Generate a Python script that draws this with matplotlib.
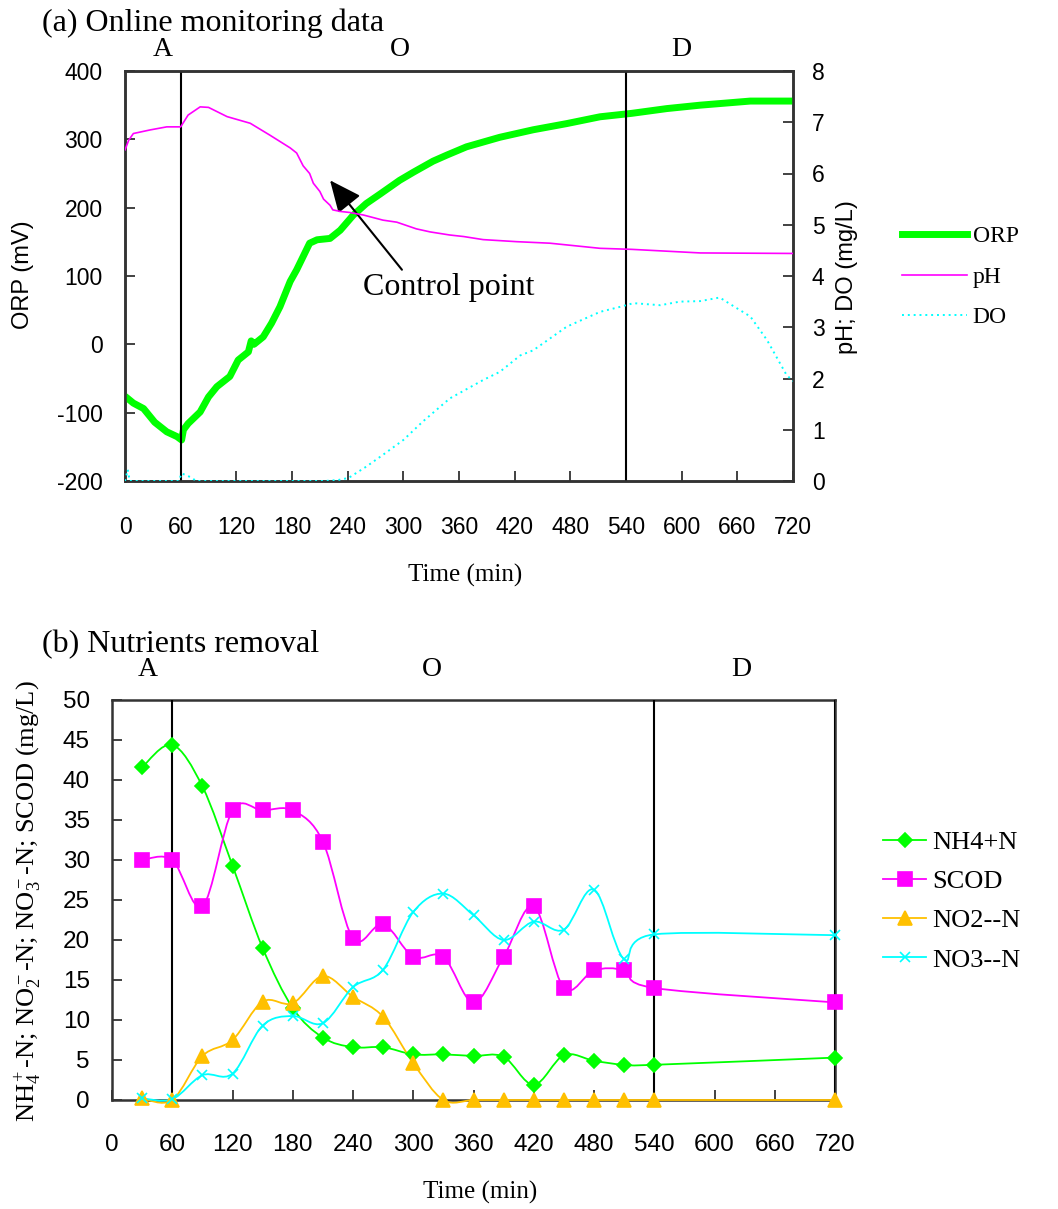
import matplotlib
matplotlib.use("Agg")
import matplotlib.pyplot as plt
import matplotlib.transforms as mtransforms
from matplotlib.path import Path
from matplotlib.patches import PathPatch
from matplotlib.lines import Line2D

plt.rcParams['font.family'] = ['Liberation Serif', 'DejaVu Serif']
plt.rcParams['mathtext.fontset'] = 'custom'
plt.rcParams['mathtext.rm'] = 'Liberation Serif'
plt.rcParams['mathtext.it'] = 'Liberation Serif:italic'
plt.rcParams['mathtext.bf'] = 'Liberation Serif:bold'
plt.rcParams['axes.unicode_minus'] = False

# ---- (a) online monitoring data ----
orp_t = [0, 9, 20, 32, 45, 56, 61, 63, 68, 81, 90, 99, 113, 122, 133, 136, 139, 149, 158,
         167, 178, 185, 199, 207, 221, 232, 246, 260, 275, 296, 311, 332, 347, 368, 404,
         440, 476, 512, 546, 584, 620, 674, 720]
orp = [-76, -86, -94, -114, -128, -135, -140, -125, -116, -99, -77, -62, -47, -23, -11, 5, 0,
       11, 31, 55, 92, 109, 148, 153, 155, 167, 189, 206, 220, 240, 252, 268, 277, 289, 303,
       314, 323, 333, 338, 345, 350, 356, 356]

ph_t = [0, 4, 9, 27, 45, 60, 68, 81, 90, 110, 135, 156, 178, 185, 192, 199, 203, 210, 214,
        221, 224, 232, 242, 257, 278, 293, 314, 329, 350, 365, 386, 404, 422, 458, 512, 546,
        620, 720]
ph = [6.46, 6.65, 6.78, 6.85, 6.91, 6.91, 7.14, 7.30, 7.29, 7.11, 6.98, 6.75, 6.50, 6.40,
      6.15, 6.00, 5.81, 5.65, 5.50, 5.38, 5.29, 5.26, 5.24, 5.19, 5.09, 5.05, 4.92, 4.86,
      4.80, 4.77, 4.71, 4.69, 4.67, 4.64, 4.54, 4.52, 4.45, 4.44]

do_t = [0, 3, 5, 58, 61, 70, 77, 215, 230, 241, 260, 278, 300, 321, 350, 386, 404, 426, 440,
        458, 476, 512, 534, 548, 577, 598, 620, 641, 656, 674, 692, 713, 720]
do = [0.0, 0.22, 0.0, 0.0, 0.15, 0.08, 0.0, 0.0, 0.02, 0.06, 0.28, 0.51, 0.80, 1.16, 1.61,
      1.97, 2.13, 2.45, 2.55, 2.78, 3.01, 3.30, 3.40, 3.47, 3.43, 3.50, 3.51, 3.58, 3.41,
      3.21, 2.75, 2.07, 1.95]

# ---- (b) nutrients removal ----
time_b = [30, 60, 90, 120, 150, 180, 210, 240, 270, 300, 330, 360, 390, 420, 450, 480, 510, 540, 720]
nh4 = [41.6, 44.4, 39.2, 29.3, 19.0, 11.5, 7.8, 6.6, 6.6, 5.7, 5.7, 5.5, 5.4, 1.9, 5.6, 4.9, 4.4, 4.4, 5.3]
scod = [30.0, 30.0, 24.2, 36.2, 36.2, 36.2, 32.3, 20.2, 22.0, 17.9, 17.9, 12.2, 17.9, 24.2, 14.0, 16.2, 16.2, 14.0, 12.2]
no2 = [0.2, 0.0, 5.5, 7.5, 12.3, 12.1, 15.5, 12.9, 10.4, 4.6, 0.0, 0.0, 0.0, 0.0, 0.0, 0.0, 0.0, 0.0, 0.0]
no3 = [0.2, 0.1, 3.1, 3.3, 9.3, 10.5, 9.6, 14.1, 16.3, 23.5, 25.8, 23.1, 20.0, 22.3, 21.3, 26.3, 17.6, 20.7, 20.6]

ticks_t = list(range(0, 721, 60))
phase_lines = [60, 540]

W, H = 1058, 1209
fig = plt.figure(figsize=(W / 100, H / 100), dpi=100)
spine_col = '#333333'
tick_font = ['Liberation Sans', 'DejaVu Sans']


def style_axes(ax, pad_x, pad_y, size):
    for s in ax.spines.values():
        s.set_color(spine_col)
        s.set_linewidth(1.8)
    ax.tick_params(direction='in', length=7, width=1.3, color=spine_col)
    ax.tick_params(axis='x', pad=pad_x, labelsize=size)
    ax.tick_params(axis='y', pad=pad_y, labelsize=size)
    for lab in ax.get_xticklabels() + ax.get_yticklabels():
        lab.set_family(tick_font)


def smooth_line(ax, x, y, color, lw=1.3):
    # Excel-like smoothed line (Catmull-Rom as cubic Bezier)
    n = len(x)
    verts = [(x[0], y[0])]
    codes = [Path.MOVETO]
    for i in range(n - 1):
        xp, yp = (x[i - 1], y[i - 1]) if i > 0 else (x[i], y[i])
        xn, yn = (x[i + 2], y[i + 2]) if i + 2 < n else (x[i + 1], y[i + 1])
        c1 = (x[i] + (x[i + 1] - xp) / 6, y[i] + (y[i + 1] - yp) / 6)
        c2 = (x[i + 1] - (xn - x[i]) / 6, y[i + 1] - (yn - y[i]) / 6)
        verts += [c1, c2, (x[i + 1], y[i + 1])]
        codes += [Path.CURVE4] * 3
    ax.add_patch(PathPatch(Path(verts, codes), fill=False, edgecolor=color, lw=lw,
                           zorder=3, clip_on=False))


# ===== top panel =====
ax = fig.add_axes([125 / W, 1 - 481 / H, 668 / W, 410 / H])
ax2 = ax.twinx()
ax.plot(orp_t, orp, color='#00ff00', lw=5, solid_capstyle='butt', zorder=3)
ax2.plot(ph_t, ph, color='#ff00ff', lw=1.2, zorder=3)
ax2.plot(do_t, do, color='#00ffff', lw=1.4, linestyle=(0, (1, 2)), zorder=3)
for t in phase_lines:
    ax.axvline(t, color='black', lw=1.5, zorder=4)

ax.set_xlim(0, 720)
ax.set_ylim(-200, 400)
ax2.set_ylim(0, 8)
ax.set_xticks(ticks_t)
ax.set_yticks(range(-200, 401, 100))
ax2.set_yticks(range(0, 9))
style_axes(ax, 25, 16, 16.5)
style_axes(ax2, 25, 13.5, 16.5)

ax.annotate('Control point', xy=(221, 240), xytext=(363 / W, 1 - 287 / H),
            textcoords='figure fraction', fontsize=23, va='center', ha='left',
            arrowprops=dict(arrowstyle='-|>,head_length=0.85,head_width=0.38',
                            color='black', lw=1.5, shrinkA=0, shrinkB=0,
                            relpos=(0.24, 1.0)))

ax.set_xlabel('Time (min)', fontsize=18)
ax.xaxis.label.set_va('center')
ax.xaxis.set_label_coords(465 / W, 1 - 575 / H, transform=fig.transFigure)
ax.set_ylabel('ORP (mV)', fontsize=17, family=tick_font, va='center')
ax.yaxis.set_label_coords(23 / W, 1 - 275 / H, transform=fig.transFigure)
ax2.set_ylabel('pH; DO (mg/L)', fontsize=17, family=tick_font, va='center')
ax2.yaxis.set_label_coords(847 / W, 1 - 277 / H, transform=fig.transFigure)

fig.text(42 / W, 1 - 23 / H, '(a) Online monitoring data', fontsize=23, va='center')
trans_a = mtransforms.blended_transform_factory(ax.transData, fig.transFigure)
for lab, t in zip(['A', 'O', 'D'], [41, 296, 600]):
    ax.text(t, 1 - 49 / H, lab, transform=trans_a, fontsize=20, ha='center', va='center')

leg_a = [Line2D([], [], color='#00ff00', lw=5),
         Line2D([], [], color='#ff00ff', lw=1.2),
         Line2D([], [], color='#00ffff', lw=1.4, linestyle=(0, (1, 2)))]
fig.legend(leg_a, ['ORP', 'pH', 'DO'], loc='center left',
           bbox_to_anchor=(902 / W, 1 - 277 / H), frameon=False, fontsize=17,
           handlelength=2.75, handletextpad=0.25, labelspacing=0.8,
           borderpad=0, borderaxespad=0)

# ===== bottom panel =====
bx = fig.add_axes([112 / W, 1 - 1100 / H, 723 / W, 400 / H])
series = [
    (nh4, '#00ff00', 'D', 7, 'NH4+N'),
    (scod, '#ff00ff', 's', 10, 'SCOD'),
    (no2, '#ffc000', '^', 10, 'NO2--N'),
    (no3, '#00ffff', 'x', 7, 'NO3--N'),
]
handles = []
for vals, col, mk, ms, name in series:
    smooth_line(bx, time_b, vals, col)
    bx.plot(time_b, vals, linestyle='none', marker=mk, markersize=ms, color=col,
            markeredgewidth=1.2, zorder=4, clip_on=False)
    handles.append(Line2D([], [], color=col, lw=1.3, marker=mk, markersize=ms,
                          markeredgewidth=1.2))
for t in phase_lines + [720]:
    bx.axvline(t, color='black', lw=1.5, zorder=2.6)

bx.set_xlim(0, 720)
bx.set_ylim(0, 50)
bx.set_xticks(ticks_t)
bx.set_yticks(range(0, 51, 5))
style_axes(bx, 24.5, 16, 17.5)

bx.set_xlabel('Time (min)', fontsize=18)
bx.xaxis.label.set_va('center')
bx.xaxis.set_label_coords(480 / W, 1 - 1192 / H, transform=fig.transFigure)
bx.set_ylabel(r'NH$_4^+$-N; NO$_2^-$-N; NO$_3^-$-N; SCOD (mg/L)', fontsize=19, va='center')
bx.yaxis.set_label_coords(28 / W, 1 - 901 / H, transform=fig.transFigure)

fig.text(42 / W, 1 - 645 / H, '(b) Nutrients removal', fontsize=23, va='center')
trans_b = mtransforms.blended_transform_factory(bx.transData, fig.transFigure)
for lab, t in zip(['A', 'O', 'D'], [36, 319, 627]):
    bx.text(t, 1 - 670 / H, lab, transform=trans_b, fontsize=20, ha='center', va='center')

fig.legend(handles, [s[4] for s in series], loc='center left',
           bbox_to_anchor=(883 / W, 1 - 901 / H), frameon=False, fontsize=19,
           handlelength=1.63, handletextpad=0.23, labelspacing=0.6,
           borderpad=0, borderaxespad=0)

fig.savefig('out.png', dpi=100)
